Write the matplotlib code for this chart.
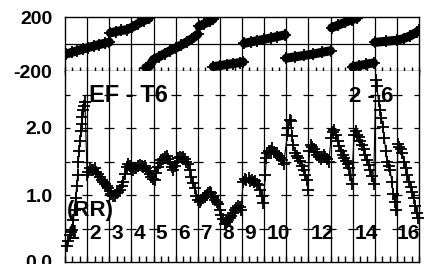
import numpy as np
import matplotlib
matplotlib.use('Agg')
import matplotlib.pyplot as plt
from matplotlib.ticker import MultipleLocator

plt.rcParams['font.family'] = ['Liberation Sans', 'DejaVu Sans']
plt.rcParams['font.weight'] = 'bold'

# ---------------------------------------------------------------------------
# top panel: phase (deg), wrapped segments
phase_x = [
    [0.05, 0.3, 0.55, 0.8, 1.05, 1.3, 1.55, 1.8, 2.0],
    [2.05, 2.3, 2.55, 2.8, 3.05, 3.3, 3.55, 3.8],
    [3.65, 3.8, 4.0, 4.25, 4.5, 4.75, 5.0, 5.25, 5.5, 5.75, 6.0],
    [6.05, 6.3, 6.55, 6.7],
    [6.7, 7.0, 7.3, 7.6, 7.9, 8.05],
    [8.1, 8.4, 8.7, 9.0, 9.3, 9.6, 9.95],
    [10.0, 10.4, 10.8, 11.2, 11.6, 12.0],
    [12.05, 12.35, 12.65, 12.95, 13.2],
    [13.0, 13.3, 13.6, 13.95],
    [14.0, 14.5, 15.0, 15.3, 15.6, 15.9, 16.0],
]
phase_y = [
    [-75, -62, -50, -38, -26, -15, -4, 6, 14],
    [82, 92, 100, 106, 125, 150, 172, 190],
    [-175, -168, -115, -95, -72, -50, -30, -8, 15, 40, 72],
    [130, 150, 170, 185],
    [-168, -160, -152, -145, -138, -133],
    [5, 15, 25, 35, 45, 55, 68],
    [-105, -95, -85, -75, -62, -50],
    [120, 140, 160, 180, 192],
    [-170, -160, -150, -140],
    [12, 20, 28, 40, 60, 88, 100],
]

# bottom panel: EF - T6 ratio
rr_x = [0.08, 0.15, 0.22, 0.28, 0.33, 0.38, 0.43, 0.48, 0.53, 0.57, 0.60,
        0.64, 0.68, 0.72, 0.75, 0.79, 0.83, 0.87, 0.90,
        1.0, 1.05, 1.12, 1.2, 1.28, 1.35, 1.42, 1.5, 1.58, 1.65, 1.73, 1.8,
        1.88, 1.95, 2.02, 2.1, 2.18, 2.26, 2.34, 2.41, 2.48, 2.56, 2.63, 2.7,
        2.78, 2.86, 2.93, 3.0, 3.08, 3.15, 3.23, 3.3, 3.38, 3.46, 3.53, 3.6,
        3.68, 3.75, 3.83, 3.9, 3.98, 4.06, 4.13, 4.2, 4.28, 4.36, 4.44, 4.52,
        4.59, 4.67, 4.74, 4.82, 4.89, 4.96, 5.04, 5.11, 5.19, 5.27, 5.34,
        5.41, 5.49, 5.56, 5.63, 5.71, 5.78, 5.86, 5.94, 6.01, 6.09, 6.16,
        6.24, 6.32, 6.4, 6.47, 6.55, 6.62, 6.7, 6.77, 6.85, 6.92, 6.99, 7.07,
        7.14, 7.22, 7.3, 7.37, 7.45, 7.52, 7.6, 7.67, 7.75, 7.82, 7.9, 7.96,
        8.05, 8.12, 8.2, 8.3, 8.38, 8.45, 8.53, 8.6, 8.68, 8.75, 8.83, 8.9,
        8.97, 9.05, 9.1, 9.15, 9.22, 9.3, 9.37, 9.45, 9.52, 9.6, 9.67, 9.75,
        9.82, 9.88, 10.05, 10.1, 10.15, 10.2, 10.26, 10.32, 10.4, 10.48,
        10.55, 10.63, 10.7, 10.78, 10.85, 10.93, 10.98, 11.05, 11.1, 11.17,
        11.25, 11.32, 11.4, 11.47, 11.55, 11.62, 11.7, 11.77, 11.85, 11.92,
        12.03, 12.1, 12.18, 12.25, 12.33, 12.4, 12.48, 12.55, 12.62, 12.7,
        12.78, 12.85, 12.9, 12.95, 13.07, 13.13, 13.2, 13.28, 13.35, 13.43,
        13.5, 13.57, 13.65, 13.72, 13.8, 13.87, 13.95, 14.05, 14.1, 14.17,
        14.24, 14.3, 14.37, 14.43, 14.5, 14.57, 14.63, 14.7, 14.77, 14.84,
        14.9, 14.96, 15.05, 15.1, 15.17, 15.25, 15.32, 15.4, 15.47, 15.55,
        15.62, 15.7, 15.77, 15.84, 15.9, 15.97]
rr_y = [0.24, 0.32, 0.40, 0.45, 0.48, 0.62, 0.78, 0.95, 1.14, 1.30, 1.49,
        1.65, 1.81, 1.95, 2.06, 2.17, 2.27, 2.33, 2.39,
        1.30, 1.35, 1.40, 1.38, 1.37, 1.40, 1.34, 1.32, 1.27, 1.22, 1.19,
        1.16, 1.13, 1.10, 1.06, 1.02, 0.98, 0.99, 1.03, 1.05, 1.08, 1.13,
        1.20, 1.32, 1.42, 1.47, 1.44, 1.40, 1.38, 1.41, 1.40, 1.43, 1.45,
        1.44, 1.42, 1.43, 1.41, 1.36, 1.31, 1.27, 1.24, 1.22, 1.33, 1.42,
        1.48, 1.52, 1.54, 1.56, 1.58, 1.54, 1.48, 1.42, 1.37, 1.43, 1.50,
        1.55, 1.57, 1.55, 1.56, 1.53, 1.50, 1.46, 1.38, 1.27, 1.18, 1.10,
        0.98, 0.92, 0.89, 0.92, 0.95, 0.98, 1.00, 1.03, 1.05, 1.03, 0.97,
        0.93, 0.89, 0.86, 0.78, 0.70, 0.64, 0.57, 0.60, 0.63, 0.65, 0.68,
        0.73, 0.78, 0.80, 0.84, 0.82, 0.77,
        1.20, 1.24, 1.22, 1.25, 1.21, 1.23, 1.19, 1.21, 1.17, 1.15, 1.08,
        0.99, 0.88, 1.30, 1.55, 1.63, 1.65, 1.66, 1.70, 1.64, 1.63, 1.61,
        1.58, 1.55, 1.52, 1.46, 1.90, 2.00, 2.12, 2.10, 1.88, 1.74, 1.63,
        1.58, 1.55, 1.51, 1.44, 1.37, 1.30, 1.22, 1.08, 1.65, 1.75, 1.72,
        1.68, 1.64, 1.60, 1.56, 1.54, 1.57, 1.59, 1.56, 1.53, 1.50, 1.85,
        1.94, 1.97, 1.90, 1.80, 1.73, 1.66, 1.60, 1.55, 1.51, 1.46, 1.40,
        1.30, 1.16, 1.90, 1.95, 1.90, 1.86, 1.80, 1.75, 1.69, 1.60, 1.52,
        1.45, 1.37, 1.28, 1.17, 2.72, 2.62, 2.40, 2.27, 2.15, 2.02, 1.85,
        1.65, 1.50, 1.44, 1.37, 1.20, 1.02, 0.90, 0.77, 1.76, 1.72, 1.68,
        1.62, 1.50, 1.40, 1.30, 1.20, 1.12, 1.05, 0.96, 0.83, 0.73, 0.65]

seg_labels = ['1', '2', '3', '4', '5', '6', '7', '8', '9', '10', '12', '14', '16']
seg_label_x = [0.1, 1.1, 2.1, 3.1, 4.1, 5.1, 6.1, 7.1, 8.1, 9.1, 11.1, 13.1, 15.0]

# ---------------------------------------------------------------------------

fig = plt.figure(figsize=(4.24, 2.64), dpi=100)
W, H = 424., 264.
x0, x1 = 65., 419.
ax_top = fig.add_axes([x0 / W, (H - 71) / H, (x1 - x0) / W, 54 / H])
ax_bot = fig.add_axes([x0 / W, (H - 262) / H, (x1 - x0) / W, 191 / H])

for ax in (ax_top, ax_bot):
    ax.set_xlim(0, 16)
    for k in range(1, 16):
        ax.axvline(k, color='black', lw=0.9, zorder=1)
    for s in ax.spines.values():
        s.set_linewidth(1.0)
        s.set_color('black')
    ax.tick_params(axis='y', length=0, pad=9, labelsize=14)

# top panel
ax_top.set_ylim(-200, 200)
ax_top.set_yticks([-200, 200])
ax_top.set_yticklabels(['-200', '200'], fontweight='bold')
ax_top.axhline(0, color='black', lw=0.9, zorder=1)
ax_top.xaxis.set_major_locator(MultipleLocator(1))
ax_top.xaxis.set_minor_locator(MultipleLocator(1 / 3.))
ax_top.tick_params(axis='x', which='both', direction='inout', length=6,
                   width=1, labelbottom=False, top=False)
for px, py in zip(phase_x, phase_y):
    ax_top.plot(px, py, color='black', lw=6.5, solid_capstyle='round',
                zorder=3)
    ax_top.plot(px, py, '+', color='black', ms=8.5, mew=1.3, zorder=3)
ax_top.spines['bottom'].set_zorder(5)

# bottom panel
ax_bot.set_ylim(0, 191 / 67.)
ax_bot.set_yticks([0, 1, 2])
ax_bot.set_yticklabels(['0.0', '1.0', '2.0'], fontweight='bold')
ax_bot.spines['top'].set_visible(False)
ax_bot.xaxis.set_major_locator(MultipleLocator(1))
ax_bot.xaxis.set_minor_locator(MultipleLocator(1 / 3.))
ax_bot.tick_params(axis='x', which='both', direction='in', length=4,
                   width=1, labelbottom=False)

# short dashes where the grid crosses 0.5 steps
gx, gy = np.meshgrid(np.arange(0, 17), [0.5, 1.0, 1.5, 2.0, 2.5])
ax_bot.plot(gx.ravel(), gy.ravel(), '_', color='black', ms=7.5, mew=0.9,
            zorder=1)

for lab, lx in zip(seg_labels, seg_label_x):
    ax_bot.text(lx, 0.43, lab, fontsize=15, fontweight='bold',
                ha='left', va='center', zorder=2, clip_on=False)

ax_bot.text(1.08, 2.49, 'EF - T6', fontsize=17, fontweight='bold',
            ha='left', va='center', zorder=2)
ax_bot.text(12.84, 2.47, '2 - 6', fontsize=16, fontweight='bold',
            ha='left', va='center', zorder=2)
ax_bot.text(0.1, 0.77, '(RR)', fontsize=16, fontweight='bold',
            ha='left', va='center', zorder=2)

ax_bot.plot(rr_x, rr_y, color='black', lw=0.8, marker='+', ms=9,
            mew=1.3, zorder=4, clip_on=False)

fig.savefig('out.png', dpi=100)
